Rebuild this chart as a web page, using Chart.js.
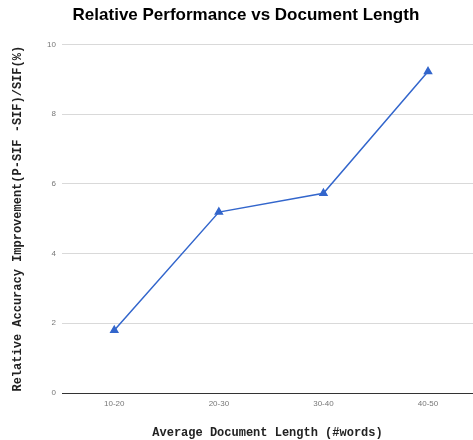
<!DOCTYPE html>
<html lang="en">

<head>
    <meta charset="UTF-8">
    <title>Relative Performance vs Document Length</title>
    <script src="https://cdn.jsdelivr.net/npm/chart.js"></script>
    <style>
        body {
            margin: 0;
            background: #fff;
        }
    </style>
</head>

<body>
    <canvas id="myChart" width="473" height="440"></canvas>
</body>

</html>

<script>
    // dados
    const categorias = ['10-20', '20-30', '30-40', '40-50'];
    const melhoria = [1.8, 5.19, 5.73, 9.22];
    const ticksY = [0, 2, 4, 6, 8, 10];

    // posicao de cada categoria no eixo x (linear, para deixar sobra a direita como no original)
    const pontos = melhoria.map(function (v, i) {
        return { x: i, y: v };
    });

    const config = {
        type: 'line',
        data: {
            datasets: [{
                label: 'Improvement',
                data: pontos,
                borderColor: '#3366cc',
                backgroundColor: '#3366cc',
                borderWidth: 1.5,
                pointStyle: 'triangle',
                pointRadius: 4,
                tension: 0
            }]
        },
        options: {
            responsive: false,
            animation: false,
            layout: { padding: 0, autoPadding: false },
            plugins: {
                legend: { display: false },
                tooltip: { enabled: false },
                title: {
                    display: true,
                    // espacos na frente so pra puxar o titulo um pouco pra direita
                    text: '    Relative Performance vs Document Length',
                    color: '#000',
                    font: { family: 'Arial, "Liberation Sans", sans-serif', size: 17, weight: 'bold' },
                    padding: { top: 5, bottom: 19 }
                }
            },
            scales: {
                x: {
                    type: 'linear',
                    min: -0.5,
                    max: 3.43,
                    afterBuildTicks: function (scale) {
                        scale.ticks = categorias.map(function (c, i) { return { value: i }; });
                    },
                    afterFit: function (scale) { scale.height = 47; },
                    grid: { display: false, drawTicks: false },
                    border: { display: true, color: '#333', width: 1 },
                    ticks: {
                        padding: 6,
                        color: '#777',
                        font: { family: 'Arial, "Liberation Sans", sans-serif', size: 8 },
                        maxRotation: 0,
                        callback: function (v) { return categorias[v]; }
                    },
                    title: {
                        display: true,
                        text: 'Average Document Length (#words)',
                        color: '#222',
                        font: { family: '"Liberation Mono", "Courier New", monospace', size: 12, weight: 'bold' },
                        padding: { top: 0, bottom: 0 }
                    }
                },
                y: {
                    min: 0,
                    max: 10,
                    afterBuildTicks: function (scale) {
                        scale.ticks = ticksY.map(function (v) { return { value: v }; });
                    },
                    afterFit: function (scale) { scale.width = 62; },
                    grid: {
                        drawTicks: false,
                        color: function (ctx) { return ctx.tick && ctx.tick.value === 0 ? '#333' : '#d9d9d9'; }
                    },
                    border: { display: false },
                    ticks: {
                        padding: 6,
                        color: '#777',
                        font: { family: 'Arial, "Liberation Sans", sans-serif', size: 8 }
                    },
                    title: {
                        display: true,
                        text: 'Relative Accuracy Improvement(P-SIF -SIF)/SIF(%)',
                        color: '#222',
                        font: { family: '"Liberation Mono", "Courier New", monospace', size: 12, weight: 'bold' },
                        padding: { top: 11, bottom: 0 }
                    }
                }
            }
        }
    };

    let myChart = new Chart(document.getElementById('myChart'), config);
</script>
